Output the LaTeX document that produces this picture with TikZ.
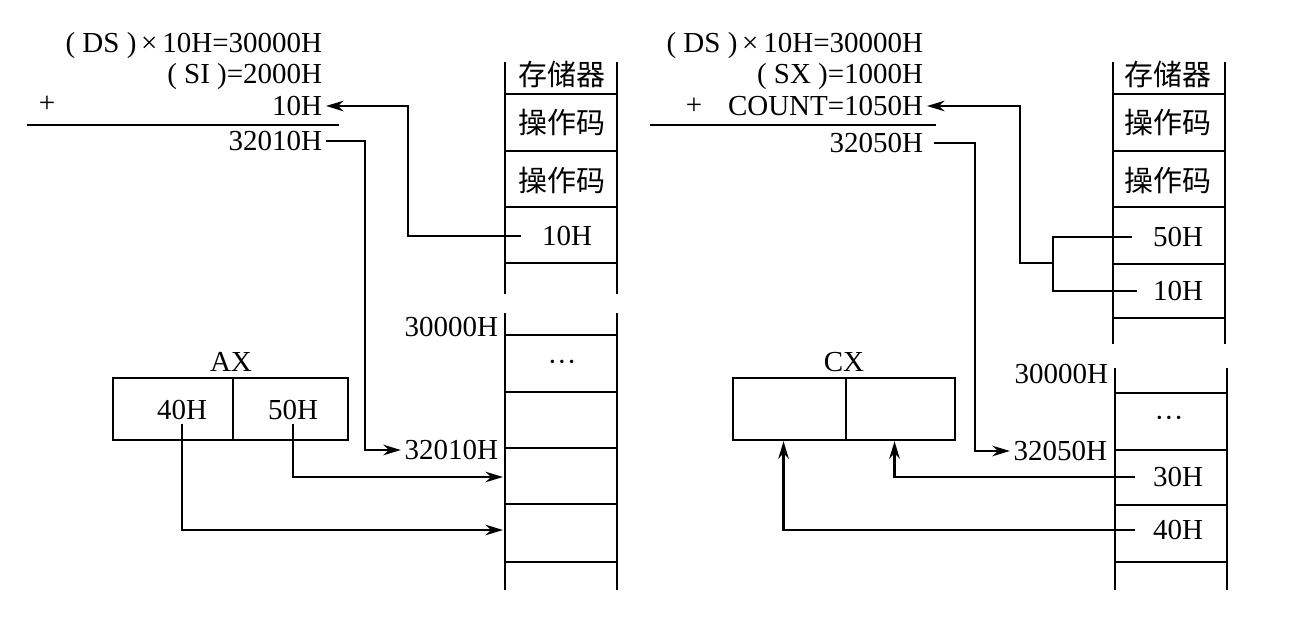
\documentclass[tikz,border=0pt]{standalone}
\usepackage{fontspec}
\setmainfont{Liberation Serif}
\newfontfamily\cjk{Noto Sans CJK SC}
\usetikzlibrary{arrows.meta}

\begin{document}
\begin{tikzpicture}[x=0.02cm, y=-0.02cm, >={Stealth[length=10pt,width=6pt]}, line width=1.4pt,
    every node/.style={font=\fontsize{16.5}{18}\selectfont, inner sep=1.5pt},
    lbl/.style={anchor=east},
    regcell/.style={draw, line width=1.4pt, minimum height=1.24cm}]
    \useasboundingbox (0,0) rectangle (1295,632);

    % Left part (SI relative addressing)
    \node[lbl] (ds1) at (326,46) {( DS )\,×\,10H=30000H};
    \node[lbl] (si) at (326,77) {( SI )=2000H};
    \node (plus1) at (47,104) {+};
    \node[lbl] (a10) at (326,106) {10H};
    \draw (27,125) -- (339,125);
    \node[lbl] (s1) at (326,141) {32010H};

    % memory, upper strip
    \draw (505,62) -- (505,294);
    \draw (617,62) -- (617,294);
    \foreach \y in {94,151,207,263}
        \draw (505,\y) -- (617,\y);
    \node (lhead) at (562,74) {\cjk 存储器};
    \node (lop1) at (562,122) {\cjk 操作码};
    \node (lop2) at (562,180) {\cjk 操作码};
    \node (l10) at (567,236) {10H};

    % memory, lower strip
    \draw (505,313) -- (505,590);
    \draw (617,313) -- (617,590);
    \foreach \y in {335,392,448,504,562}
        \draw (505,\y) -- (617,\y);
    \node (ldots) at (562,366) {···};
    \node[lbl] (m0) at (502,327) {30000H};
    \node[lbl] (m1) at (502,450) {32010H};

    % register AX
    \node (axname) at (231,362) {AX};
    \node[regcell, minimum width=2.4cm] (axl) at (173,409) {};
    \node[regcell, minimum width=2.3cm] (axr) at (290.5,409) {};
    \node (t40) at (182,410) {40H};
    \node (t50) at (293,410) {50H};

    \coordinate (b1) at (408,236);
    \coordinate (b2) at (365,141);
    \coordinate (lc1) at (503,477);
    \coordinate (lc2) at (503,530);
    \draw[->] ([xshift=-10pt]l10.west) -| (b1) |- (a10.east);
    \draw[->] (s1.east) -| (b2) |- (m1.west);
    \draw[->] (t50.south) |- (lc1);
    \draw[->] (t40.south) |- (lc2);

    % Right part (SI relative addressing with COUNT)
    \node[lbl] (ds2) at (927,46) {( DS )\,×\,10H=30000H};
    \node[lbl] (sx) at (927,77) {( SX )=1000H};
    \node (plus2) at (694,106) {+};
    \node[lbl] (cnt) at (927,106) {COUNT=1050H};
    \draw (650,125) -- (936,125);
    \node[lbl] (s2) at (927,143) {32050H};

    % memory, upper strip
    \draw (1113,62) -- (1113,344);
    \draw (1225,62) -- (1225,344);
    \foreach \y in {94,151,207,264,318}
        \draw (1113,\y) -- (1225,\y);
    \node (rhead) at (1168,74) {\cjk 存储器};
    \node (rop1) at (1168,122) {\cjk 操作码};
    \node (rop2) at (1168,180) {\cjk 操作码};
    \node (r50) at (1178,237) {50H};
    \node (r10) at (1178,291) {10H};

    % memory, lower strip
    \draw (1115,368) -- (1115,590);
    \draw (1227,368) -- (1227,590);
    \foreach \y in {393,450,505,562}
        \draw (1115,\y) -- (1227,\y);
    \node (rdots) at (1169,422) {···};
    \node[lbl] (n0) at (1112,374) {30000H};
    \node[lbl] (m2) at (1111,451) {32050H};
    \node (r30) at (1178,477) {30H};
    \node (r40) at (1178,530) {40H};

    % register CX
    \node (cxname) at (844,362) {CX};
    \node[regcell, minimum width=2.26cm] (cxl) at (789.5,409) {};
    \node[regcell, minimum width=2.18cm] (cxr) at (900.5,409) {};

    \coordinate (j1) at (1053,263);
    \coordinate (j2) at (1053,291);
    \coordinate (b3) at (1020,263);
    \coordinate (b4) at (975,143);
    \draw ([xshift=-10pt]r50.west) -| (j2) -- ([xshift=-7pt]r10.west);
    \draw[->] (j1) -- (b3) |- (cnt.east);
    \draw[->] ([xshift=4pt]s2.east) -| (b4) |- (m2.west);
    \draw[->] ([xshift=-8pt]r30.west) -| ([xshift=-3.4pt]cxr.south);
    \draw[->] ([xshift=-8pt]r40.west) -| ([xshift=-3.4pt]cxl.south);
\end{tikzpicture}
\end{document}
